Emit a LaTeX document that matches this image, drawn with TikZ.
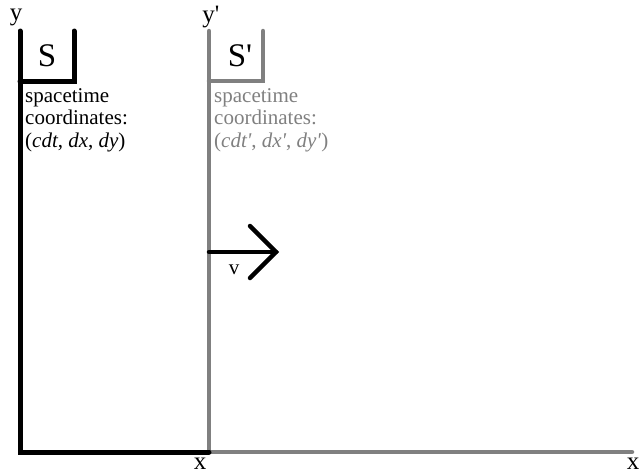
\documentclass[tikz,border=0pt]{standalone}
\usepackage{fontspec}
\setmainfont{Liberation Serif}
\newcommand{\sq}{\textquotesingle}
\begin{document}
\begin{tikzpicture}[x=1pt,y=-1pt,
  axb/.style={line width=5pt,black},
  lbl/.style={inner sep=0pt,font=\fontsize{25}{25}\selectfont},
  big/.style={inner sep=0pt,font=\fontsize{33}{33}\selectfont},
  info/.style={inner sep=0pt,anchor=north west,align=left,font=\fontsize{21}{22.5}\selectfont}]
\definecolor{axgray}{RGB}{128,128,128}
\useasboundingbox (0,0) rectangle (641,475);
% black frame
\coordinate (yb) at (20,31);
\coordinate (ob) at (20,452);
\coordinate (xb) at (209,452);
\coordinate (sb1) at (20,81);
\coordinate (sb2) at (74,81);
\coordinate (sb3) at (74,31);
% gray frame
\coordinate (yg) at (209,31);
\coordinate (og) at (209,452);
\coordinate (xg) at (632,452);
\coordinate (sg1) at (209,81);
\coordinate (sg2) at (263,81);
\coordinate (sg3) at (263,31);
\draw[line width=4.5pt,axgray,line cap=round] (yg) -- (og) -- (xg);
\draw[line width=4.5pt,axgray,line cap=round,line join=miter] (sg1) -- (sg2) -- (sg3);
\draw[axb,line cap=round] (yb) -- (ob) -- (xb);
\draw[axb,line cap=round,line join=miter] (sb1) -- (sb2) -- (sb3);
% arrow
\coordinate (a0) at (209,252);
\coordinate (a1) at (276,252);
\coordinate (h1) at (250,226);
\coordinate (h2) at (250,278);
\draw[line width=4.5pt,line cap=round,line join=miter] (a0) -- (a1);
\draw[line width=4.5pt,line cap=round,line join=miter] (h1) -- (a1) -- (h2);
% labels
\node[lbl] (ly) at (16,17) {y};
\node[lbl] (lyp) at (211,17) {y\sq};
\node[lbl] (lx) at (200,464) {x};
\node[lbl] (lxp) at (633,464) {x};
\node[big] (S) at (47,56) {S};
\node[big] (Sp) at (240,56) {S\sq};
\node[lbl,font=\fontsize{21}{21}\selectfont] (v) at (234,270) {v};
\node[info] (tb) at (25,88) {spacetime\\coordinates:\\(\textit{cdt}, \textit{dx}, \textit{dy})};
\node[info,text=axgray] (tg) at (214,88) {spacetime\\coordinates:\\(\textit{cdt\sq}, \textit{dx\sq}, \textit{dy\sq})};
\end{tikzpicture}
\end{document}
